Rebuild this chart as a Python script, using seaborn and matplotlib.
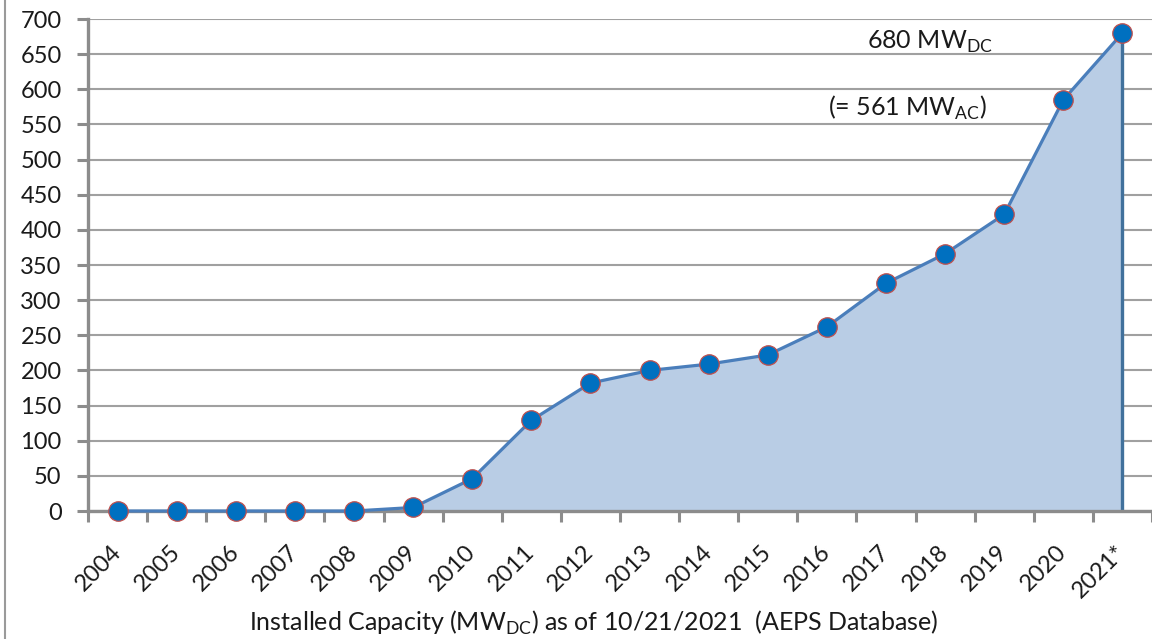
import numpy as np
import pandas as pd
import seaborn as sns
import matplotlib.pyplot as plt
from matplotlib.lines import Line2D

# Data
years = ['2004', '2005', '2006', '2007', '2008', '2009', '2010', '2011', '2012',
         '2013', '2014', '2015', '2016', '2017', '2018', '2019', '2020', '2021*']
capacity = [0, 0, 0, 0, 0, 5, 46, 129, 182, 200, 209, 222, 262, 324, 366, 422, 585, 680]
y_ticks = list(range(0, 701, 50))

df = pd.DataFrame({'year': years, 'mw': capacity})
df['pos'] = np.arange(len(df))

sns.set_theme(style='white')
plt.rcParams['font.family'] = ['Lato', 'DejaVu Sans']
plt.rcParams['mathtext.fontset'] = 'custom'
plt.rcParams['mathtext.rm'] = 'Lato'

text_col = '#1a1a1a'
axis_col = '#8c8c8c'

fig = plt.figure(figsize=(11.52, 6.39), dpi=100)
ax = fig.add_axes([88 / 1152, 128 / 639, 1064 / 1152, 492 / 639])

# area under the curve
ax.fill_between(df['pos'], 0, df['mw'], color='#b9cde5', zorder=2, linewidth=0)
ax.vlines(df['pos'].iloc[-1], 0, df['mw'].iloc[-1], color='#41719c', linewidth=2.4, zorder=3)

sns.lineplot(data=df, x='pos', y='mw', ax=ax, color='#4a7ebb', linewidth=2.3,
             marker='o', markersize=14, markerfacecolor='#0070c0',
             markeredgecolor='#c0504d', markeredgewidth=0.9, zorder=6, clip_on=False)

# axes
ax.set_ylim(0, 700)
ax.set_xlim(-0.5, 17.45)
ax.set_yticks(y_ticks)
ax.set_yticklabels([str(v) for v in y_ticks], fontsize=17, color=text_col)
ax.tick_params(axis='y', length=8, width=2.2, color=axis_col, pad=11, left=True)

ax.set_xticks(np.arange(-0.5, len(years), 1.0))
ax.set_xticklabels([])
ax.set_xticks(df['pos'], minor=True)
ax.set_xticklabels(years, minor=True, rotation=45, ha='right', va='center',
                   rotation_mode='anchor', fontsize=17, color=text_col)
ax.tick_params(axis='x', which='major', length=8, width=2.2, color=axis_col, bottom=True)
ax.tick_params(axis='x', which='minor', length=0, pad=27, bottom=True)

ax.grid(axis='y', color='#a0a0a0', linewidth=1.5, zorder=0)
ax.set_axisbelow(True)
for side in ['top', 'right']:
    ax.spines[side].set_visible(False)
for side in ['left', 'bottom']:
    ax.spines[side].set_color(axis_col)
    ax.spines[side].set_linewidth(2.4)
    ax.spines[side].set_zorder(5)

ax.set_xlabel(r'Installed Capacity (MW$_\mathregular{DC}$) as of 10/21/2021  (AEPS Database)',
              fontsize=18, color=text_col)
ax.xaxis.set_label_coords((594 - 88) / 1064, -(623 - 511) / 492)
ax.xaxis.label.set_va('center')
ax.set_ylabel('')

# annotations
ax.text((930 - 88) / 1064, (511 - 42) / 492, r'680 MW$_\mathregular{DC}$', transform=ax.transAxes,
        fontsize=18, color=text_col, ha='center', va='center')
ax.text((907 - 88) / 1064, (511 - 108) / 492, r'(= 561 MW$_\mathregular{AC}$)', transform=ax.transAxes,
        fontsize=18, color=text_col, ha='center', va='center')

# outer chart border on the left
fig.add_artist(Line2D([5 / 1152, 5 / 1152], [0, 1], color='#9a9a9a', linewidth=1.5))

fig.savefig('out.png', dpi=100)
